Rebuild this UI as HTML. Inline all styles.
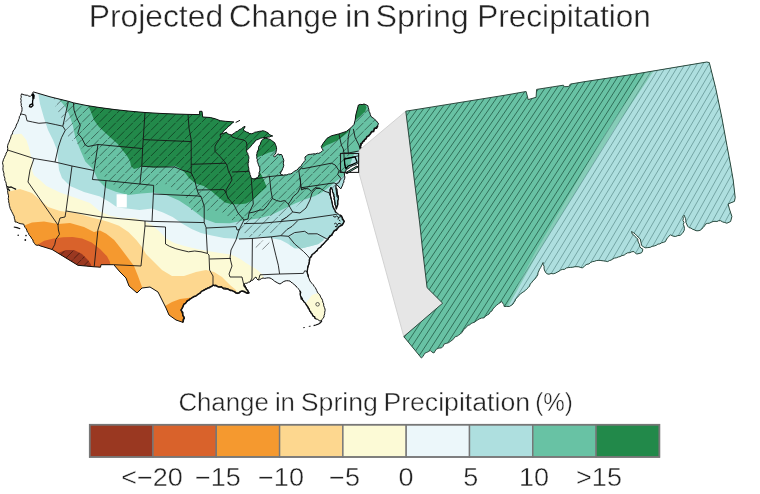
<!DOCTYPE html>
<html lang="en"><head><meta charset="utf-8"><title>Projected Change in Spring Precipitation</title>
<style>
html,body{margin:0;padding:0;background:#fff}
body{width:760px;height:494px;overflow:hidden;font-family:"Liberation Sans",sans-serif}
svg{display:block}
text{font-family:"Liberation Sans",sans-serif;fill:#222}
</style></head><body>
<svg width="760" height="494" viewBox="0 0 760 494">
<rect width="760" height="494" fill="#fff"/>
<defs>
<clipPath id="us"><path d="M21.6 93.8 L26.0 95.2 L30.5 96.3 L31.8 95.0 L33.3 91.9 L50.0 96.8 L68.4 101.3 L73.4 102.8 L86.0 105.4 L100.0 107.6 L115.0 109.6 L130.0 111.2 L145.0 112.5 L160.0 113.4 L175.0 114.0 L188.0 114.4 L199.6 114.6 L199.6 111.3 L202.0 111.3 L202.7 117.0 L210.3 117.5 L215.3 118.8 L220.3 120.7 L225.3 121.3 L233.8 121.9 L227.5 127.5 L221.3 133.8 L220.0 134.5 L226.3 132.0 L227.5 133.8 L231.3 135.0 L237.6 131.3 L241.4 128.8 L245.0 126.3 L245.0 127.0 L243.2 130.0 L246.4 132.0 L251.4 133.8 L256.4 132.0 L262.7 130.7 L267.7 132.6 L270.2 135.0 L272.7 136.0 L268.0 137.0 L264.0 137.5 L260.5 138.2 L256.4 140.0 L249.6 147.5 L246.4 150.8 L248.7 156.4 L248.1 165.2 L249.2 171.5 L250.8 177.4 L254.0 179.0 L257.6 177.4 L259.1 174.6 L259.8 169.0 L257.8 162.7 L256.6 155.2 L258.5 147.6 L260.6 143.0 L261.8 140.4 L263.0 139.2 L265.2 138.2 L270.2 139.5 L274.6 142.6 L276.5 147.6 L275.9 152.7 L273.4 155.8 L274.6 157.0 L277.8 153.9 L281.5 154.5 L283.4 159.0 L283.8 165.2 L282.1 170.2 L280.3 174.0 L283.4 175.2 L290.3 174.0 L296.6 170.2 L301.6 165.2 L305.4 160.2 L305.0 157.0 L307.5 155.0 L312.5 154.0 L318.8 153.4 L323.2 150.2 L321.3 146.5 L323.2 143.3 L327.0 138.3 L331.4 135.8 L338.9 133.9 L346.4 131.4 L350.8 127.9 L354.0 124.5 L355.2 120.0 L355.8 115.0 L357.1 110.0 L358.4 105.0 L364.0 104.0 L367.8 105.7 L369.0 111.3 L370.9 116.3 L374.7 119.5 L378.4 123.2 L377.8 125.7 L374.0 130.0 L370.3 134.0 L366.5 137.7 L362.8 141.4 L360.9 145.2 L360.2 149.6 L361.0 153.0 L361.0 158.0 L359.5 162.0 L357.5 163.5 L352.0 166.0 L348.0 168.5 L345.5 171.0 L344.6 173.2 L344.6 178.9 L342.7 185.1 L340.8 188.9 L339.0 187.0 L337.2 185.0 L336.4 184.5 L336.2 187.7 L337.0 191.4 L338.3 197.7 L337.7 205.2 L336.4 209.0 L335.0 203.0 L333.8 196.0 L332.5 190.0 L331.0 187.5 L330.0 190.0 L330.5 196.0 L331.5 200.0 L332.5 205.0 L334.0 209.0 L336.0 212.5 L339.8 215.0 L342.3 217.5 L344.2 221.3 L342.3 225.0 L340.0 226.0 L337.3 228.8 L334.5 230.5 L332.3 233.8 L327.9 239.5 L323.5 243.9 L319.7 247.6 L316.0 251.4 L312.2 254.5 L309.7 258.3 L308.4 265.2 L307.2 271.5 L308.4 277.0 L310.0 281.0 L316.0 289.0 L322.0 299.0 L325.0 309.0 L324.0 317.0 L321.0 321.0 L316.0 319.0 L311.0 313.0 L308.0 307.0 L304.0 302.0 L301.0 297.0 L300.0 291.0 L296.0 286.0 L290.0 281.0 L285.0 281.0 L280.0 284.0 L276.0 282.0 L270.0 278.0 L263.0 278.0 L258.0 280.0 L256.0 277.0 L253.0 280.0 L250.0 282.0 L244.0 284.0 L246.0 288.0 L249.0 293.0 L245.0 292.0 L242.0 291.0 L239.0 293.0 L236.0 293.0 L232.0 290.5 L228.0 289.0 L220.0 287.0 L213.0 285.0 L208.0 288.0 L202.0 291.0 L196.0 296.0 L190.0 299.0 L184.0 304.0 L181.0 310.0 L184.0 317.0 L183.0 322.4 L176.0 320.0 L169.0 315.0 L166.0 308.0 L162.0 300.0 L158.0 292.0 L150.0 287.0 L142.0 288.0 L137.0 293.0 L129.0 286.0 L126.0 278.0 L120.0 272.0 L114.0 265.0 L113.7 264.7 L101.0 264.7 L100.5 267.2 L94.2 266.8 L77.9 265.3 L52.1 249.5 L40.0 245.8 L35.5 244.8 L31.6 238.5 L26.9 230.6 L23.7 224.2 L15.0 221.9 L14.2 216.3 L11.0 210.0 L8.7 202.0 L8.0 194.0 L6.8 186.6 L3.8 175.2 L2.5 162.7 L5.0 156.0 L7.5 150.1 L7.5 147.0 L8.2 143.8 L12.6 132.5 L16.3 125.0 L17.6 122.6 L20.7 113.9 L22.0 109.5 L21.3 103.8 L20.7 98.8 Z M345.5 172.8 L351.0 169.5 L357.0 166.0 L358.0 167.0 L352.0 170.5 L347.0 173.6 Z"/></clipPath>
<clipPath id="hz"><path d="M52.0 85.0 L54.0 100.0 L56.0 108.0 L61.0 116.0 L64.0 130.0 L69.0 138.0 L80.0 146.0 L88.0 160.0 L96.0 168.0 L104.0 176.0 L115.0 186.0 L128.0 194.0 L140.0 192.0 L150.0 186.0 L165.0 184.0 L180.0 192.0 L188.0 200.0 L192.0 212.0 L200.0 212.0 L210.0 210.0 L222.0 212.0 L234.0 222.0 L240.0 232.0 L250.0 237.0 L262.0 236.0 L275.0 232.0 L283.0 222.0 L290.0 212.0 L298.0 205.0 L310.0 196.0 L325.0 192.0 L336.0 190.0 L342.0 186.0 L346.0 176.0 L350.0 150.0 L395.0 105.0 L380.0 96.5 L326.0 150.5 L318.0 152.0 L305.0 150.0 L290.0 140.0 L290.0 80.0 L52.0 80.0 Z M255.0 241.0 L270.0 240.0 L270.0 249.0 L256.0 250.0 Z M56.0 256.0 L58.0 253.0 L66.0 250.0 L74.0 250.0 L82.0 254.0 L88.0 260.0 L91.0 264.4 L92.0 270.0 L92.0 345.0 L-10.0 345.0 L-10.0 256.0 Z"/></clipPath>
<clipPath id="ins"><path d="M405.8 111.2 L505.0 95.2 L526.1 91.5 L528.2 99.6 L536.1 97.3 L536.6 89.4 L563.4 85.2 L564.5 86.7 L568.7 86.5 L570.3 84.1 L585.0 81.6 L637.8 73.6 L706.8 62.0 L709.3 62.6 L715.6 87.7 L721.9 117.8 L726.9 145.4 L730.6 165.0 L733.2 180.0 L735.2 197.6 L734.4 201.4 L728.1 203.9 L729.4 208.9 L731.9 216.5 L730.6 221.5 L726.9 223.2 L724.7 222.5 L722.6 221.9 L720.6 220.7 L718.7 220.7 L716.9 221.5 L715.0 221.3 L713.1 221.5 L711.2 222.3 L709.4 223.2 L707.4 223.4 L705.5 224.0 L704.6 225.9 L703.1 227.4 L701.8 229.0 L700.1 230.3 L698.0 230.8 L696.0 230.7 L694.2 229.8 L692.5 229.2 L691.0 228.1 L689.2 227.7 L687.6 226.1 L686.7 224.0 L685.9 222.3 L685.8 220.4 L685.6 218.6 L684.8 216.9 L684.2 215.2 L683.0 216.5 L683.3 218.5 L682.9 220.5 L684.0 222.4 L683.3 224.4 L684.1 226.3 L684.4 228.3 L684.2 230.3 L683.2 232.2 L681.8 233.7 L680.4 235.3 L677.8 235.6 L675.4 236.5 L672.8 236.0 L670.4 234.8 L669.1 236.1 L667.8 237.5 L666.6 239.0 L665.4 241.6 L663.6 242.3 L661.6 242.8 L659.9 243.9 L657.9 244.1 L656.2 245.3 L654.2 246.0 L652.1 246.3 L650.3 247.3 L647.8 247.6 L645.3 247.8 L643.3 246.7 L641.5 245.3 L641.2 243.2 L640.7 241.1 L640.3 239.0 L638.3 237.3 L636.5 235.3 L635.0 233.8 L633.3 232.6 L631.5 231.5 L632.2 234.0 L633.8 235.1 L635.0 236.6 L636.4 237.8 L637.8 239.0 L637.9 241.0 L638.6 242.9 L639.5 244.6 L639.8 246.6 L641.0 248.2 L642.8 249.1 L642.5 251.1 L641.5 252.8 L639.0 253.5 L636.5 254.1 L634.0 251.6 L631.9 251.7 L629.9 252.7 L627.7 252.8 L625.8 253.8 L624.2 255.1 L622.0 255.5 L620.2 256.6 L618.2 257.0 L616.4 257.8 L614.5 258.1 L612.7 259.1 L611.1 260.1 L609.3 260.6 L607.7 261.6 L605.8 261.2 L603.9 260.9 L602.0 260.7 L600.1 260.4 L598.2 260.4 L596.3 260.6 L594.5 261.3 L592.6 261.6 L590.7 262.4 L589.0 263.9 L586.9 264.3 L585.1 265.4 L582.6 267.9 L580.7 267.5 L578.9 266.8 L577.0 266.7 L575.0 266.7 L572.8 267.2 L570.5 267.4 L568.2 267.6 L566.3 268.0 L564.6 269.3 L562.6 269.4 L560.7 270.0 L559.0 271.2 L557.1 272.2 L555.3 273.2 L553.2 273.8 L551.1 273.5 L549.0 274.2 L546.9 273.8 L545.4 272.0 L544.4 270.0 L544.0 268.1 L544.1 266.2 L543.0 264.4 L543.1 262.5 L542.3 264.2 L541.4 265.9 L540.6 267.6 L539.5 269.2 L538.8 271.0 L538.0 272.7 L537.8 274.7 L536.8 276.4 L535.6 278.0 L534.4 279.6 L532.8 280.8 L531.8 282.6 L530.2 283.9 L529.6 286.0 L528.3 287.5 L526.8 288.9 L525.4 290.4 L523.8 291.6 L522.1 292.7 L520.5 293.9 L518.8 295.5 L517.3 297.5 L515.5 299.0 L515.1 300.9 L513.9 302.4 L513.0 304.0 L511.2 305.4 L509.2 306.5 L506.7 306.4 L504.2 306.5 L503.8 304.6 L502.7 303.1 L501.7 301.5 L500.0 302.7 L498.3 303.9 L496.7 305.2 L494.7 307.0 L492.9 309.0 L492.0 310.9 L490.0 312.1 L489.1 314.0 L487.3 315.0 L485.5 316.2 L484.1 317.8 L481.5 318.1 L479.1 319.0 L477.6 320.0 L476.0 321.0 L474.6 322.2 L472.8 322.8 L471.1 323.5 L469.7 324.9 L467.8 325.3 L466.2 327.5 L464.0 329.1 L463.0 330.9 L461.8 332.6 L460.3 334.1 L458.7 335.1 L457.2 336.2 L455.3 336.6 L453.9 338.6 L452.1 340.2 L450.2 341.6 L448.3 342.8 L446.1 343.4 L444.0 344.1 L443.1 346.3 L441.5 347.9 L438.9 348.1 L436.4 349.1 L435.1 351.0 L433.9 353.0 L431.8 352.0 L430.2 350.4 L428.6 351.5 L426.9 352.3 L425.1 353.0 L424.0 354.7 L422.9 356.6 L421.4 358.0 L403.8 336.6 L442.7 303.2 L427.1 287.7 L422.6 250.0 L419.8 224.0 Z"/></clipPath>
</defs>
<g clip-path="url(#us)">
<rect x="0" y="80" width="400" height="260" fill="#ECF7FA"/>
<path d="M38.0 88.0 L38.0 92.0 L40.0 104.0 L44.0 118.0 L48.0 130.0 L53.0 140.0 L57.0 150.0 L58.0 160.0 L59.0 170.0 L62.0 178.0 L70.0 186.0 L84.0 192.0 L100.0 196.5 L109.5 202.0 L117.4 207.6 L126.8 208.4 L139.5 210.0 L152.0 208.6 L163.0 212.4 L172.6 217.0 L182.0 223.4 L191.6 229.0 L201.0 233.0 L210.5 235.3 L224.0 238.0 L240.0 239.0 L252.0 238.0 L262.0 237.6 L272.0 238.2 L280.8 240.0 L287.0 243.2 L294.6 248.3 L302.2 248.3 L312.2 245.7 L318.5 243.9 L322.2 240.7 L324.7 238.8 L332.0 235.0 L430.0 235.0 L430.0 60.0 L38.0 60.0 Z" fill="#AEDFDF"/>
<path d="M57.0 92.0 L57.7 98.0 L62.8 103.8 L66.0 108.0 L69.0 114.0 L71.0 120.0 L73.0 126.0 L75.3 137.5 L80.3 150.1 L85.3 161.4 L92.9 169.0 L98.0 180.0 L106.0 188.0 L115.8 191.8 L128.4 195.0 L141.0 193.4 L153.7 192.6 L166.3 195.0 L179.0 200.5 L188.4 206.8 L198.0 214.0 L204.5 219.0 L215.5 222.9 L229.8 223.2 L242.4 220.8 L258.2 218.5 L270.8 215.3 L283.5 209.0 L296.1 203.0 L305.6 199.2 L315.0 196.0 L322.6 192.0 L327.6 188.2 L332.7 184.0 L337.7 180.0 L342.7 176.4 L346.0 173.0 L430.0 173.0 L430.0 60.0 L57.0 60.0 Z" fill="#68C2A4"/>
<path d="M289.0 237.0 L296.0 233.5 L305.0 232.5 L312.0 234.0 L320.0 237.0 L324.0 240.0 L318.5 243.9 L312.2 245.7 L302.2 248.3 L294.6 248.3 L290.0 245.0 Z" fill="#9FD7D3"/>
<path d="M88.0 100.0 L88.0 105.0 L91.0 112.0 L94.0 120.0 L99.0 127.0 L105.3 132.7 L111.0 138.0 L117.8 144.0 L122.0 149.5 L126.6 155.3 L130.0 161.0 L131.0 166.0 L134.0 169.0 L138.0 168.0 L141.8 166.3 L153.7 167.6 L166.8 167.0 L174.7 165.7 L180.0 168.3 L185.3 172.9 L189.2 178.2 L195.8 183.4 L203.7 186.0 L211.6 191.3 L219.5 197.9 L225.0 202.5 L232.0 204.3 L240.0 204.3 L246.1 203.5 L252.2 200.5 L259.3 193.4 L266.4 187.3 L266.4 185.3 L263.3 178.2 L259.8 172.1 L258.0 168.0 L256.0 165.0 L256.0 158.0 L258.0 157.0 L262.7 155.2 L269.0 152.6 L273.4 151.4 L276.5 149.0 L290.0 140.0 L290.0 90.0 L86.0 90.0 Z" fill="#22894A"/>
<path d="M321.3 146.5 L323.2 143.3 L327.0 138.3 L331.4 135.8 L338.9 133.9 L346.4 131.4 L349.6 129.5 L347.7 132.6 L342.7 136.4 L337.6 140.2 L331.4 143.3 L326.4 145.2 L322.6 147.7 Z" fill="#22894A"/>
<path d="M349.1 167.2 L352.8 157.3 L354.5 153.0 L363.0 149.0 L363.0 166.0 Z" fill="#AEDFDF"/>
<path d="M260.5 172.6 L269.4 175.2 L269.6 183.3 L266.4 186.3 L263.3 178.2 Z" fill="#7FCDB2"/>
<path d="M358.4 103.0 L364.0 102.0 L366.5 107.5 L365.3 111.3 L360.2 116.3 L355.8 120.0 L353.0 118.0 L355.0 110.0 Z" fill="#22894A"/>
<path d="M5.0 134.4 L13.8 134.4 L21.3 133.8 L26.4 140.0 L28.9 147.6 L30.7 155.0 L32.9 162.6 L32.0 170.2 L33.9 175.2 L40.2 180.2 L46.4 186.0 L60.0 192.5 L76.0 198.0 L90.0 203.0 L100.0 211.6 L109.5 215.5 L122.0 218.0 L134.7 218.0 L145.0 221.4 L152.0 225.0 L160.0 232.0 L166.3 238.4 L174.2 243.0 L185.3 246.3 L198.0 249.3 L209.0 251.3 L220.0 252.9 L231.3 254.5 L240.8 259.2 L246.0 263.0 L256.0 269.0 L262.0 274.0 L265.0 280.0 L265.0 345.0 L-10.0 345.0 L-10.0 134.4 Z" fill="#FCFAD6"/>
<path d="M303.0 306.0 L306.0 303.0 L312.0 295.0 L318.0 293.0 L324.0 298.0 L330.0 300.0 L330.0 325.0 L300.0 325.0 Z" fill="#FCFAD6"/>
<path d="M5.0 192.0 L11.0 191.0 L20.0 189.0 L32.0 193.0 L40.0 200.0 L48.0 207.0 L60.0 211.0 L76.0 213.0 L90.0 217.0 L100.0 219.5 L108.0 221.8 L119.0 225.8 L128.4 232.0 L136.3 240.0 L142.6 248.0 L146.0 254.0 L154.0 262.0 L162.0 270.0 L172.0 276.0 L184.0 276.0 L196.0 272.0 L206.0 270.0 L214.0 272.0 L222.0 277.0 L230.0 285.0 L236.0 290.0 L238.0 296.0 L238.0 345.0 L-10.0 345.0 L-10.0 192.0 Z" fill="#FDD78F"/>
<path d="M20.0 228.0 L23.0 226.0 L32.0 222.4 L44.0 221.6 L58.0 224.0 L70.0 223.0 L84.0 227.0 L94.0 232.0 L100.0 230.5 L106.3 233.7 L114.2 240.0 L120.5 248.0 L128.0 258.0 L134.0 266.0 L138.0 276.0 L142.0 287.0 L142.0 295.0 L142.0 345.0 L-10.0 345.0 L-10.0 228.0 Z" fill="#F5992F"/>
<path d="M163.0 308.0 L165.0 306.0 L172.0 302.0 L180.0 299.0 L188.0 298.0 L193.0 297.0 L195.0 330.0 L160.0 330.0 Z" fill="#F5992F"/>
<path d="M36.0 248.0 L38.7 244.0 L44.2 240.8 L53.7 238.5 L63.2 237.2 L72.7 236.9 L82.1 238.5 L91.6 242.4 L100.0 249.0 L107.0 256.3 L110.0 262.0 L111.0 270.0 L111.0 345.0 L-10.0 345.0 L-10.0 248.0 Z" fill="#D9622B"/>
<path d="M56.0 256.0 L58.0 253.0 L66.0 250.0 L74.0 250.0 L82.0 254.0 L88.0 260.0 L91.0 264.4 L92.0 270.0 L92.0 345.0 L-10.0 345.0 L-10.0 256.0 Z" fill="#9A3821"/>
<path d="M116.6 194.2 L126.8 194.2 L126.8 207.6 L116.6 207.6 Z" fill="#fff"/>
<g clip-path="url(#hz)" stroke="#000" stroke-opacity="0.52" stroke-width="0.85" stroke-dasharray="10.8 1.3" fill="none">
<path d="M-54.9 80 L-314.9 340 M-46.4 80 L-306.4 340 M-37.8 80 L-297.8 340 M-29.3 80 L-289.3 340 M-20.7 80 L-280.7 340 M-12.2 80 L-272.2 340 M-3.7 80 L-263.7 340 M4.9 80 L-255.1 340 M13.4 80 L-246.6 340 M22.0 80 L-238.0 340 M30.5 80 L-229.5 340 M39.0 80 L-221.0 340 M47.6 80 L-212.4 340 M56.1 80 L-203.9 340 M64.7 80 L-195.3 340 M73.2 80 L-186.8 340 M81.7 80 L-178.3 340 M90.3 80 L-169.7 340 M98.8 80 L-161.2 340 M107.4 80 L-152.6 340 M115.9 80 L-144.1 340 M124.4 80 L-135.6 340 M133.0 80 L-127.0 340 M141.5 80 L-118.5 340 M150.1 80 L-109.9 340 M158.6 80 L-101.4 340 M167.1 80 L-92.9 340 M175.7 80 L-84.3 340 M184.2 80 L-75.8 340 M192.8 80 L-67.2 340 M201.3 80 L-58.7 340 M209.8 80 L-50.2 340 M218.4 80 L-41.6 340 M226.9 80 L-33.1 340 M235.5 80 L-24.5 340 M244.0 80 L-16.0 340 M252.5 80 L-7.5 340 M261.1 80 L1.1 340 M269.6 80 L9.6 340 M278.2 80 L18.2 340 M286.7 80 L26.7 340 M295.2 80 L35.2 340 M303.8 80 L43.8 340 M312.3 80 L52.3 340 M320.9 80 L60.9 340 M329.4 80 L69.4 340 M337.9 80 L77.9 340 M346.5 80 L86.5 340 M355.0 80 L95.0 340 M363.6 80 L103.6 340 M372.1 80 L112.1 340 M380.6 80 L120.6 340 M389.2 80 L129.2 340 M397.7 80 L137.7 340 M406.3 80 L146.3 340 M414.8 80 L154.8 340 M423.3 80 L163.3 340 M431.9 80 L171.9 340 M440.4 80 L180.4 340 M449.0 80 L189.0 340 M457.5 80 L197.5 340 M466.0 80 L206.0 340 M474.6 80 L214.6 340 M483.1 80 L223.1 340 M491.7 80 L231.7 340 M500.2 80 L240.2 340 M508.7 80 L248.7 340 M517.3 80 L257.3 340 M525.8 80 L265.8 340 M534.4 80 L274.4 340 M542.9 80 L282.9 340 M551.4 80 L291.4 340 M560.0 80 L300.0 340 M568.5 80 L308.5 340 M577.1 80 L317.1 340 M585.6 80 L325.6 340 M594.1 80 L334.1 340 M602.7 80 L342.7 340 M611.2 80 L351.2 340 M619.8 80 L359.8 340 M628.3 80 L368.3 340 M636.8 80 L376.8 340 M645.4 80 L385.4 340 M653.9 80 L393.9 340 M662.5 80 L402.5 340 M671.0 80 L411.0 340 M679.5 80 L419.5 340 M688.1 80 L428.1 340 M696.6 80 L436.6 340 M705.2 80 L445.2 340 M713.7 80 L453.7 340"/>
</g>
<path d="M20.7 113.9 L25.7 115.0 L27.0 120.8 L32.6 122.0 L38.9 123.3 L46.4 122.7 L55.2 124.5 L62.8 126.2 M68.4 101.3 L62.8 126.2 M62.8 126.2 L65.3 130.2 L61.5 137.7 L58.4 147.0 L55.0 162.0 M7.6 150.0 L34.0 158.5 L55.0 162.0 L72.0 166.0 L94.0 170.5 M73.4 102.8 L74.0 110.0 L76.6 117.6 L80.3 125.2 L77.8 133.3 L81.6 137.7 L85.3 145.0 L88.0 146.5 L98.0 144.5 M98.0 144.5 L94.0 170.5 L92.4 179.5 M98.0 144.5 L143.0 148.6 M145.0 112.5 L143.2 140.0 L142.6 149.0 L141.8 166.3 L139.9 184.0 M92.4 179.5 L106.0 180.6 L139.9 184.0 L153.7 185.4 M106.0 180.6 L101.8 217.0 M72.0 166.0 L66.0 211.0 M34.0 158.5 L30.0 170.0 L28.0 182.0 L58.0 225.0 M66.0 211.0 L65.0 217.0 L60.0 218.0 L58.0 225.0 L58.4 230.0 L59.5 234.2 L55.8 239.5 L54.7 244.7 L52.1 249.5 M66.0 211.0 L101.8 217.0 L145.0 221.0 L152.0 221.4 L204.2 222.6 M101.8 217.0 L97.9 230.0 L94.2 266.8 M153.7 185.4 L153.4 194.0 L152.0 221.4 M153.4 194.0 L197.1 195.9 L201.0 196.6 M145.0 221.0 L145.0 226.0 L141.8 258.0 L141.0 266.0 L113.7 264.7 M145.0 226.0 L165.5 227.0 L165.5 244.0 L169.5 246.3 L175.8 248.7 L182.0 250.3 L188.4 251.8 L194.7 251.0 L201.0 251.8 L207.4 253.4 L209.0 255.0 L209.6 270.0 L213.0 276.0 L213.0 285.0 M204.2 206.0 L204.2 222.6 L206.0 227.4 L207.4 253.4 M209.6 259.0 L231.0 258.4 M143.2 139.6 L191.2 141.6 M141.8 166.3 L153.7 167.0 L174.7 167.0 L182.6 170.3 L187.9 171.6 L191.2 172.9 M188.0 114.4 L189.0 128.0 L191.2 140.0 L191.2 164.3 L191.2 172.9 L194.5 179.5 L197.1 190.0 L198.5 194.0 L201.0 196.6 L204.2 206.0 M191.2 164.3 L226.0 163.2 M197.1 190.0 L224.0 189.6 L226.0 193.0 M220.0 134.5 L220.6 137.6 L216.3 143.9 L215.0 146.4 L215.0 151.4 L220.0 156.4 L224.4 161.4 L227.0 165.2 L228.2 170.2 L231.3 177.0 L232.0 180.0 L229.0 185.0 L226.0 190.0 L226.0 193.0 L228.0 198.0 L234.0 205.0 L238.0 213.0 L244.0 220.0 L241.0 226.0 L239.0 230.0 L236.0 240.0 L231.0 250.0 L230.0 258.0 L232.0 266.0 L229.0 274.0 L230.0 277.0 L242.0 277.0 L243.6 284.0 M231.3 135.0 L232.0 137.0 L237.6 138.8 L243.9 140.0 L246.4 142.0 L247.0 146.4 L246.4 150.8 M232.0 172.0 L249.5 171.3 M251.2 177.7 L252.2 190.4 L253.3 204.0 L249.0 213.0 L248.0 219.0 L244.0 220.0 M254.0 179.0 L270.0 176.5 L283.4 175.2 M269.4 175.8 L270.9 190.4 L272.4 198.5 M249.0 213.0 L254.0 212.0 L260.0 210.0 L263.3 210.0 L267.4 205.5 L269.4 202.5 L272.4 198.5 L276.5 200.5 L280.5 201.5 L284.6 200.5 L288.3 204.0 L290.2 201.5 L293.3 196.4 L297.7 192.7 L300.2 187.7 L300.6 181.4 L300.0 178.0 M244.0 223.6 L262.0 223.2 L297.1 220.0 L332.3 215.0 L339.8 213.6 M297.8 220.6 L292.1 226.3 L287.1 229.4 L280.8 235.7 M239.0 239.0 L252.0 238.5 L262.0 237.6 L271.4 236.8 L280.8 235.7 L288.4 236.3 M206.0 228.0 L236.0 226.6 L237.0 230.0 L239.6 229.6 M252.4 238.5 L252.0 278.0 L250.0 282.0 M271.4 236.8 L275.8 255.2 L278.3 265.2 L279.6 274.0 M258.5 280.0 L260.0 274.8 L279.6 274.0 L303.4 273.4 L304.7 270.8 L307.2 271.5 M288.4 236.3 L294.6 243.9 L303.4 251.4 L307.2 255.2 L309.7 258.3 M288.4 236.3 L294.6 232.6 L304.7 231.3 L308.4 233.8 L317.2 233.8 L327.9 239.5 M288.3 204.0 L290.2 207.7 L292.7 212.0 L287.0 217.0 L281.0 220.5 M292.7 212.0 L300.0 213.0 L306.0 208.0 L310.0 200.0 L312.0 193.0 L316.0 188.5 L320.0 188.3 M298.8 170.7 L301.3 187.7 M298.8 170.7 L302.0 167.6 L302.5 168.8 L331.4 163.2 L335.2 165.0 L339.0 170.7 L337.7 174.5 L340.8 178.2 L339.0 182.6 L336.4 183.9 M301.3 187.7 L334.0 182.9 L336.4 183.9 M339.0 170.7 L344.6 173.2 M301.3 187.7 L308.8 189.0 L311.3 191.4 L315.0 187.7 L320.0 188.3 L325.0 191.4 L329.0 192.7 L331.5 199.0 M301.3 187.7 L301.5 190.0 L305.0 188.5 M336.4 183.9 L335.8 187.7 L337.0 197.0 L338.3 197.5 M338.9 133.9 L341.4 145.2 L343.3 149.0 L343.9 153.0 L344.2 159.0 L344.8 165.3 L346.1 168.1 M350.2 128.3 L348.3 136.4 L347.7 145.2 L348.3 153.0 M353.3 128.9 L355.2 137.7 L359.0 145.2 L360.2 149.6 M343.9 153.0 L348.3 153.0 L359.0 151.0 M344.2 159.0 L354.6 156.7 L360.0 155.5" fill="none" stroke="#161616" stroke-width="0.9" stroke-linejoin="round"/>
</g>
<path d="M21.6 93.8 L23.0 94.5 L24.5 94.9 L26.0 95.2 L27.6 95.3 L28.9 96.2 L30.5 96.3 L31.8 95.0 L32.4 93.4 L33.3 91.9 L50.0 96.8 L68.4 101.3 L73.4 102.8 L86.0 105.4 L100.0 107.6 L115.0 109.6 L130.0 111.2 L145.0 112.5 L160.0 113.4 L175.0 114.0 L188.0 114.4 L199.6 114.6 L199.6 111.3 L202.0 111.3 L202.7 117.0 L210.3 117.5 L215.3 118.8 L220.3 120.7 L225.3 121.3 L233.8 121.9 L232.4 122.9 L231.1 123.9 L230.2 125.4 L228.5 126.1 L227.5 127.5 L226.3 128.8 L224.8 129.8 L223.6 131.1 L222.7 132.7 L221.3 133.8 L220.0 134.5 L221.6 134.0 L223.2 133.4 L224.9 133.0 L226.3 132.0 L227.5 133.8 L229.4 134.4 L231.3 135.0 L232.9 134.1 L234.4 133.0 L235.8 131.9 L237.6 131.3 L238.7 130.1 L240.0 129.4 L241.4 128.8 L243.0 127.3 L245.0 126.3 L245.0 127.0 L244.1 128.5 L243.2 130.0 L244.8 131.0 L246.4 132.0 L248.1 132.5 L249.6 133.6 L251.4 133.8 L253.1 133.3 L254.6 132.3 L256.4 132.0 L258.0 131.8 L259.5 131.3 L261.2 131.2 L262.7 130.7 L264.4 131.1 L266.1 131.9 L267.7 132.6 L269.0 133.8 L270.2 135.0 L272.7 136.0 L271.1 136.2 L269.6 137.0 L268.0 137.0 L266.0 137.6 L264.0 137.5 L262.3 137.9 L260.5 138.2 L258.5 139.3 L256.4 140.0 L255.0 141.0 L254.2 142.6 L252.9 143.7 L251.7 144.8 L250.9 146.4 L249.6 147.5 L248.6 148.7 L247.5 149.7 L246.4 150.8 L246.9 152.2 L247.8 153.5 L248.0 155.1 L248.7 156.4 L248.9 158.2 L248.5 159.9 L248.7 161.7 L248.0 163.4 L248.1 165.2 L248.4 166.8 L248.8 168.3 L248.8 169.9 L249.2 171.5 L249.8 172.9 L250.0 174.5 L250.7 175.9 L250.8 177.4 L252.2 178.5 L254.0 179.0 L255.8 178.3 L257.6 177.4 L258.6 176.2 L259.1 174.6 L259.0 172.7 L259.9 170.9 L259.8 169.0 L259.7 167.3 L258.8 165.8 L258.3 164.3 L257.8 162.7 L257.2 161.3 L257.4 159.7 L256.7 158.3 L256.9 156.7 L256.6 155.2 L257.0 153.7 L257.1 152.1 L257.9 150.7 L258.5 149.2 L258.5 147.6 L259.0 146.0 L260.2 144.7 L260.6 143.0 L261.8 140.4 L263.0 139.2 L265.2 138.2 L266.9 138.6 L268.6 138.9 L270.2 139.5 L271.7 140.5 L273.1 141.7 L274.6 142.6 L275.3 144.2 L276.0 145.9 L276.5 147.6 L276.6 149.3 L276.2 151.0 L275.9 152.7 L274.9 154.5 L273.4 155.8 L274.6 157.0 L276.3 155.6 L277.8 153.9 L279.6 154.5 L281.5 154.5 L282.3 155.9 L282.7 157.5 L283.4 159.0 L283.8 160.5 L283.5 162.1 L283.3 163.7 L283.8 165.2 L283.4 166.9 L282.7 168.5 L282.1 170.2 L280.9 172.0 L280.3 174.0 L281.9 174.6 L283.4 175.2 L285.1 174.8 L286.9 175.0 L288.5 174.1 L290.3 174.0 L292.0 173.3 L293.4 172.0 L294.9 171.0 L296.6 170.2 L298.0 169.1 L298.9 167.5 L300.6 166.7 L301.6 165.2 L302.3 163.8 L303.4 162.6 L304.2 161.3 L305.4 160.2 L305.0 158.6 L305.0 157.0 L306.3 156.0 L307.5 155.0 L309.1 154.4 L310.8 154.3 L312.5 154.0 L314.1 153.8 L315.7 154.0 L317.2 153.2 L318.8 153.4 L320.4 152.5 L321.9 151.5 L323.2 150.2 L322.0 148.5 L321.3 146.5 L323.2 143.3 L327.0 138.3 L331.4 135.8 L338.9 133.9 L346.4 131.4 L350.8 127.9 L354.0 124.5 L355.2 120.0 L355.8 115.0 L357.1 110.0 L358.4 105.0 L360.2 104.4 L362.2 104.6 L364.0 104.0 L365.9 104.7 L367.8 105.7 L368.3 107.6 L368.8 109.4 L369.0 111.3 L369.9 112.9 L370.3 114.6 L370.9 116.3 L372.1 117.4 L373.6 118.2 L374.7 119.5 L376.1 120.5 L377.1 122.0 L378.4 123.2 L377.8 125.7 L376.3 126.9 L375.0 128.4 L374.0 130.0 L372.5 131.1 L371.6 132.7 L370.3 134.0 L368.9 135.1 L367.5 136.2 L366.5 137.7 L365.4 139.1 L364.0 140.1 L362.8 141.4 L362.1 143.4 L360.9 145.2 L360.7 147.4 L360.2 149.6 L360.3 151.4 L361.0 153.0 L360.7 154.7 L361.2 156.3 L361.0 158.0 L360.3 160.0 L359.5 162.0 L357.5 163.5 L356.2 164.3 L354.9 165.0 L353.3 165.3 L352.0 166.0 L350.5 166.6 L349.5 167.9 L348.0 168.5 L346.6 169.6 L345.5 171.0 L344.6 173.2 L344.4 175.1 L344.9 177.0 L344.6 178.9 L343.8 180.4 L343.9 182.1 L343.0 183.5 L342.7 185.1 L341.7 187.0 L340.8 188.9 L339.0 187.0 L337.2 185.0 L336.4 184.5 L335.9 186.1 L336.2 187.7 L336.3 189.6 L337.0 191.4 L337.3 193.0 L337.6 194.6 L338.0 196.1 L338.3 197.7 L338.5 199.2 L338.0 200.7 L337.9 202.2 L338.1 203.7 L337.7 205.2 L336.7 207.0 L336.4 209.0 L336.1 207.5 L335.9 205.9 L335.2 204.5 L335.0 203.0 L334.7 201.2 L334.2 199.5 L334.3 197.7 L333.8 196.0 L333.3 194.5 L333.4 193.0 L332.5 191.6 L332.5 190.0 L331.0 187.5 L330.0 190.0 L330.1 191.5 L330.5 193.0 L330.0 194.5 L330.5 196.0 L330.9 198.0 L331.5 200.0 L331.8 201.7 L332.1 203.3 L332.5 205.0 L333.6 206.9 L334.0 209.0 L335.2 210.6 L336.0 212.5 L337.5 213.0 L338.4 214.3 L339.8 215.0 L340.9 216.4 L342.3 217.5 L343.2 219.4 L344.2 221.3 L343.2 223.1 L342.3 225.0 L340.0 226.0 L338.7 227.4 L337.3 228.8 L335.7 229.4 L334.5 230.5 L333.6 232.3 L332.3 233.8 L331.1 235.2 L330.3 236.8 L328.7 237.9 L327.9 239.5 L326.9 240.7 L325.6 241.6 L324.3 242.5 L323.5 243.9 L322.5 245.4 L321.1 246.5 L319.7 247.6 L318.3 248.7 L317.0 249.9 L316.0 251.4 L314.6 252.3 L313.3 253.3 L312.2 254.5 L311.0 255.6 L310.6 257.1 L309.7 258.3 L309.0 260.0 L309.4 261.8 L308.9 263.5 L308.4 265.2 L308.3 266.8 L307.5 268.3 L307.6 269.9 L307.2 271.5 L307.5 273.3 L308.0 275.2 L308.4 277.0 L309.2 279.0 L310.0 281.0 L310.9 282.4 L312.2 283.5 L313.3 284.8 L314.1 286.3 L315.2 287.5 L316.0 289.0 L316.7 290.5 L317.4 292.1 L318.3 293.5 L319.7 294.6 L320.3 296.1 L321.0 297.7 L322.0 299.0 L322.6 300.6 L322.9 302.4 L323.7 303.9 L323.7 305.7 L324.4 307.4 L325.0 309.0 L325.1 310.6 L324.7 312.2 L324.7 313.8 L324.1 315.4 L324.0 317.0 L323.0 318.3 L322.0 319.6 L321.0 321.0 L319.2 320.7 L317.8 319.4 L316.0 319.0 L315.0 317.8 L314.0 316.6 L313.1 315.4 L312.0 314.2 L311.0 313.0 L310.0 311.6 L309.4 310.1 L309.1 308.3 L308.0 307.0 L306.7 306.0 L306.3 304.3 L305.2 303.1 L304.0 302.0 L302.8 300.5 L302.1 298.6 L301.0 297.0 L300.5 295.5 L300.2 294.1 L300.2 292.5 L300.0 291.0 L299.2 289.6 L298.0 288.5 L296.9 287.3 L296.0 286.0 L294.7 285.2 L293.7 283.9 L292.4 283.0 L291.0 282.2 L290.0 281.0 L288.3 280.8 L286.7 280.7 L285.0 281.0 L283.2 281.8 L281.6 283.0 L280.0 284.0 L277.9 283.1 L276.0 282.0 L274.4 281.1 L273.1 279.9 L271.6 278.8 L270.0 278.0 L268.2 277.8 L266.5 278.0 L264.8 278.4 L263.0 278.0 L261.3 278.7 L259.8 279.7 L258.0 280.0 L256.7 278.7 L256.0 277.0 L254.2 278.2 L253.0 280.0 L251.3 280.7 L250.0 282.0 L248.4 282.2 L247.1 283.2 L245.4 283.3 L244.0 284.0 L245.3 285.9 L246.0 288.0 L246.9 289.7 L248.3 291.2 L249.0 293.0 L247.0 292.5 L245.0 292.0 L243.4 291.8 L242.0 291.0 L240.6 292.1 L239.0 293.0 L237.5 292.7 L236.0 293.0 L234.6 292.3 L233.3 291.4 L232.0 290.5 L230.0 289.9 L228.0 289.0 L226.5 288.4 L224.9 287.9 L223.1 288.0 L221.7 287.1 L220.0 287.0 L218.2 286.5 L216.6 285.8 L214.7 285.8 L213.0 285.0 L211.5 286.3 L209.6 286.8 L208.0 288.0 L206.4 288.6 L204.9 289.3 L203.4 290.0 L202.0 291.0 L200.9 292.1 L199.7 293.1 L198.4 294.0 L197.0 294.7 L196.0 296.0 L194.5 296.7 L192.9 297.2 L191.4 298.1 L190.0 299.0 L188.6 299.8 L187.8 301.3 L186.6 302.2 L185.3 303.1 L184.0 304.0 L183.2 305.5 L182.8 307.2 L182.0 308.6 L181.0 310.0 L181.5 311.4 L182.0 312.9 L182.6 314.3 L183.2 315.7 L184.0 317.0 L183.6 318.8 L183.6 320.7 L183.0 322.4 L176.0 320.0 L169.0 315.0 L166.0 308.0 L162.0 300.0 L158.0 292.0 L150.0 287.0 L142.0 288.0 L137.0 293.0 L129.0 286.0 L126.0 278.0 L120.0 272.0 L114.0 265.0 L113.7 264.7 L101.0 264.7 L100.5 267.2 L94.2 266.8 L77.9 265.3 L52.1 249.5 L40.0 245.8 L38.6 245.1 L37.0 245.3 L35.5 244.8 L34.4 243.3 L33.3 241.8 L32.9 239.9 L31.6 238.5 L31.0 237.1 L29.9 235.9 L28.9 234.7 L28.6 233.1 L27.4 232.1 L26.9 230.6 L26.3 228.9 L25.1 227.5 L24.3 225.9 L23.7 224.2 L21.9 223.9 L20.1 223.6 L18.4 223.0 L16.8 222.1 L15.0 221.9 L15.0 220.0 L14.3 218.2 L14.2 216.3 L13.3 214.8 L12.6 213.2 L11.7 211.6 L11.0 210.0 L10.2 208.5 L9.8 206.9 L9.3 205.3 L9.2 203.6 L8.7 202.0 L8.7 200.4 L8.2 198.8 L8.5 197.2 L8.5 195.6 L8.0 194.0 L7.7 192.2 L7.7 190.3 L7.1 188.4 L6.8 186.6 L6.3 185.0 L6.2 183.3 L5.7 181.7 L4.8 180.2 L4.9 178.4 L4.4 176.8 L3.8 175.2 L4.0 173.6 L3.6 172.1 L3.1 170.5 L2.9 169.0 L3.0 167.4 L3.2 165.8 L2.8 164.2 L2.5 162.7 L3.1 161.0 L3.5 159.3 L4.4 157.7 L5.0 156.0 L5.8 154.6 L6.1 153.0 L7.2 151.7 L7.5 150.1 L7.8 148.6 L7.5 147.0 L7.7 145.4 L8.2 143.8 L8.9 142.4 L9.4 141.0 L9.9 139.6 L10.6 138.2 L10.9 136.7 L11.3 135.2 L12.3 134.0 L12.6 132.5 L13.2 130.9 L14.3 129.6 L15.1 128.1 L15.9 126.6 L16.3 125.0 L17.6 122.6 L18.2 121.2 L18.6 119.7 L19.3 118.3 L19.3 116.7 L20.3 115.4 L20.7 113.9 L21.2 112.5 L21.9 111.1 L22.0 109.5 L22.0 107.6 L21.2 105.7 L21.3 103.8 L20.8 102.2 L21.2 100.4 L20.7 98.8 L21.3 97.2 L21.0 95.4 L21.6 93.8 Z M345.5 172.8 L351.0 169.5 L357.0 166.0 L358.0 167.0 L352.0 170.5 L347.0 173.6 Z" fill="none" stroke="#111" stroke-width="1" stroke-linejoin="round"/>
<path d="M213.0 285.0 L212.0 286.2 L210.7 286.8 L209.6 287.8 L208.0 288.0 L206.9 288.7 L205.6 289.2 L204.5 290.0 L203.3 290.6 L202.0 291.0 L201.0 291.8 L200.3 293.0 L199.1 293.7 L198.0 294.3 L197.0 295.2 L196.0 296.0 L194.6 296.2 L193.4 296.8 L192.3 297.6 L191.2 298.3 L190.0 299.0 L189.2 300.1 L187.8 300.4 L186.8 301.2 L186.2 302.5 L185.3 303.5 L184.0 304.0 L183.5 305.2 L183.0 306.5 L182.4 307.7 L181.8 308.9 L181.0 310.0 L181.8 311.3 L182.8 312.5 L182.8 314.2 L182.8 315.8 L184.0 317.0 L184.3 318.5 L183.2 319.6 L183.0 321.0 L183.0 322.4" fill="none" stroke="#111" stroke-width="1.5" stroke-linejoin="round"/>
<path d="M244.0 284.0 L244.0 285.7 L244.9 286.9 L246.0 288.0 L246.5 289.4 L247.7 290.4 L248.1 291.8 L249.0 293.0 L247.5 293.3 L246.2 293.0 L245.0 292.0 L243.6 291.2 L242.0 291.0 L240.2 291.6 L239.0 293.0 L237.5 293.4 L236.0 293.0 L234.9 291.7 L233.4 291.2 L232.0 290.5 L230.5 290.6 L229.2 289.9 L228.0 289.0 L226.6 288.8 L225.2 288.9 L223.8 288.8 L222.6 287.9 L221.5 286.7 L220.0 287.0 L218.5 287.0 L217.2 286.3 L215.9 285.3 L214.4 285.6 L213.0 285.0" fill="none" stroke="#111" stroke-width="1.5" stroke-linejoin="round"/>
<path d="M377.8 125.7 L377.2 127.0 L376.4 128.3 L374.4 128.4 L374.0 130.0 L373.6 131.5 L371.8 131.6 L370.9 132.7 L370.3 134.0 L369.4 134.9 L368.6 136.0 L367.1 136.4 L366.5 137.7 L365.9 139.0 L364.6 139.5 L364.2 141.0 L362.8 141.4 L362.5 142.8 L360.8 143.6 L360.9 145.2 L359.9 146.5 L361.0 148.2 L360.2 149.6" fill="none" stroke="#111" stroke-width="1.6" stroke-linejoin="round"/>
<path d="M339.8 215.0 L341.4 215.9 L342.3 217.5 L342.3 219.1 L343.4 220.1 L344.2 221.3 L343.6 222.6 L342.9 223.8 L342.3 225.0 L340.0 226.0 L338.4 227.2 L337.3 228.8 L336.2 230.2 L334.5 230.5 L333.7 231.5 L333.1 232.7 L332.3 233.8 L331.9 235.3 L330.1 235.8 L329.3 236.9 L328.3 238.0 L327.9 239.5" fill="none" stroke="#111" stroke-width="1.5" stroke-linejoin="round"/>
<path d="M327.9 239.5 L326.5 240.3 L325.5 241.5 L324.6 242.8 L323.5 243.9 L322.4 244.7 L321.4 245.6 L320.9 246.9 L319.7 247.6 L318.6 248.3 L317.7 249.3 L317.2 250.7 L316.0 251.4 L314.9 252.7 L313.6 253.7 L312.2 254.5 L311.7 256.0 L310.9 257.3 L309.7 258.3 L309.8 259.7 L309.5 261.1 L309.1 262.5 L309.1 263.9 L308.4 265.2 L307.7 266.7 L307.7 268.3 L307.4 269.9 L307.2 271.5 L307.2 272.9 L307.7 274.3 L308.2 275.6 L308.4 277.0" fill="none" stroke="#111" stroke-width="1.3" stroke-linejoin="round"/>
<path d="M336.2 187.7 L337.1 189.4 L337.0 191.4 L337.1 193.0 L337.2 194.6 L338.3 196.1 L338.3 197.7 L338.3 199.2 L337.6 200.7 L337.6 202.2 L337.5 203.7 L337.7 205.2 L337.1 206.4 L336.8 207.7 L336.4 209.0 L335.9 207.5 L336.0 205.9 L334.9 204.6 L335.0 203.0 L334.7 201.6 L334.8 200.2 L334.0 198.9 L334.4 197.3 L333.8 196.0 L334.0 194.4 L333.0 193.0 L332.5 191.6 L332.5 190.0 L331.8 188.7 L331.0 187.5 L330.4 188.7 L330.0 190.0 L330.4 191.5 L329.8 193.0 L330.5 194.5 L330.5 196.0 L330.9 197.3 L331.2 198.7 L331.5 200.0 L332.0 201.6 L332.3 203.3 L332.5 205.0 L332.7 206.4 L333.3 207.7 L334.0 209.0 L335.0 210.0 L335.1 211.5 L336.0 212.5" fill="none" stroke="#111" stroke-width="1.15" stroke-linejoin="round"/>
<path d="M316.0 319.0 L314.8 318.3 L314.7 316.7 L313.1 316.3 L312.5 315.1 L312.1 313.8 L311.0 313.0 L310.7 311.7 L309.6 310.7 L309.2 309.4 L308.2 308.4 L308.0 307.0 L307.0 305.7 L306.0 304.5 L305.3 303.0 L304.0 302.0 L303.4 300.7 L302.3 299.6 L302.1 298.1 L301.0 297.0 L300.4 295.6 L300.3 294.0 L300.7 292.4 L300.0 291.0" fill="none" stroke="#111" stroke-width="1.3" stroke-linejoin="round"/>
<path d="M341 216.6 L338.4 217.4 L336.6 216 L335 217.2 L333.2 216.2 M338.6 217.4 L338 219.6 M341.6 224.4 L339 223.2 L337.4 224.6 L335.4 223.2 L334.2 224 M337.4 224.6 L336.6 227 L335 226.4 M340.4 221 L339 220" fill="none" stroke="#111" stroke-width="1" stroke-linejoin="round"/>
<path d="M31.4 94.8 L33.4 93 L34.8 95.6 L34.4 99 L32.2 98.8 L32.2 96.6 Z" fill="#000"/>
<path d="M33.2 98.5 L32.6 101 L32.6 103.4 M32.6 103.6 L33 105.4 L31 107.2 L29.4 106.6 L30 104.8 L32.6 103.6 Z" stroke="#000" stroke-width="1.3" fill="none" stroke-linejoin="round"/>
<path d="M235.7 122.5 L240 120.3" stroke="#111" stroke-width="1" fill="none"/>
<path d="M7.2 186.6 L9 187.4 L11 187 L13.2 188 L15.6 189.2 M8 188.6 L9.6 190.6" stroke="#111" stroke-width="1.3" fill="none" stroke-linecap="round"/>
<path d="M13.8 227 L17 227.6 L20.2 228.8" stroke="#111" stroke-width="1.2" fill="none"/>
<g fill="#111"><circle cx="18.2" cy="235.3" r="0.8"/><circle cx="26" cy="235.6" r="0.8"/><circle cx="25.3" cy="240" r="0.9"/></g>
<path d="M322 320.6 L320.6 322.6 L318.6 324 L315.8 325 L313.6 325.6" stroke="#111" stroke-width="1.2" fill="none"/>
<path d="M308.8 326.4 L310.6 326.2 M303.2 327.7 L304.8 327.5" stroke="#111" stroke-width="0.9" fill="none"/>
<circle cx="317.6" cy="304.3" r="1.8" fill="none" stroke="#222" stroke-width="0.7"/>
<path d="M300.6 297 L302.2 298 L301.6 300 L300.4 299.2 Z M306.6 306 L308 306.6 L307.6 308 Z" fill="#111"/>
<path d="M359.3 150.2 L405.8 111.2 L419.8 224.0 L422.6 250.0 L427.1 287.7 L442.7 303.2 L403.8 336.6 L359.0 172.8 Z" fill="#E6E6E6" stroke="#D2D2D2" stroke-width="1"/>
<rect x="340.5" y="153.5" width="18.1" height="18.9" fill="none" stroke="#1c1c1c" stroke-width="1.1"/>
<path d="M344.4 159.2 L355.0 156.8 L357.2 162.3 L352.6 164.4 L348.0 166.2 L345.9 168.9 L344.7 163.8 Z" fill="none" stroke="#000" stroke-width="1.25" stroke-linejoin="round"/>
<g clip-path="url(#ins)">
<rect x="395" y="55" width="350" height="310" fill="#68C2A4"/>
<path d="M646.0 71.0 L644.6 74.2 L608.8 128.0 L572.0 190.0 L536.5 250.0 L507.0 305.2 L498.0 322.0 L760.0 330.0 L760.0 50.0 Z" fill="#86CDB8"/>
<path d="M654.0 70.0 L653.4 71.6 L615.1 128.0 L577.0 190.0 L539.5 250.0 L509.0 305.2 L499.0 322.0 L760.0 330.0 L760.0 50.0 Z" fill="#AEDFDF"/>
<clipPath id="insL"><path d="M646.0 71.0 L644.6 74.2 L608.8 128.0 L572.0 190.0 L536.5 250.0 L507.0 305.2 L498.0 322.0 L480.0 380.0 L380.0 380.0 L380.0 50.0 Z"/></clipPath>
<clipPath id="insR"><path d="M646.0 71.0 L644.6 74.2 L608.8 128.0 L572.0 190.0 L536.5 250.0 L507.0 305.2 L498.0 322.0 L480.0 380.0 L770.0 380.0 L770.0 50.0 Z"/></clipPath>
<path clip-path="url(#insL)" d="M311.8 50 L53.5 370 M317.5 50 L60.1 370 M323.2 50 L66.7 370 M328.9 50 L73.4 370 M334.6 50 L80.0 370 M340.2 50 L86.6 370 M345.9 50 L93.3 370 M351.6 50 L99.9 370 M357.3 50 L106.6 370 M363.0 50 L113.2 370 M368.7 50 L119.9 370 M374.5 50 L126.5 370 M380.2 50 L133.2 370 M385.9 50 L139.9 370 M391.6 50 L146.5 370 M397.3 50 L153.2 370 M403.1 50 L159.9 370 M408.8 50 L166.6 370 M414.5 50 L173.3 370 M420.3 50 L180.0 370 M426.0 50 L186.7 370 M431.7 50 L193.4 370 M437.5 50 L200.1 370 M443.2 50 L206.8 370 M449.0 50 L213.5 370 M454.7 50 L220.2 370 M460.5 50 L226.9 370 M466.3 50 L233.7 370 M472.0 50 L240.4 370 M477.8 50 L247.1 370 M483.6 50 L253.9 370 M489.4 50 L260.6 370 M495.2 50 L267.3 370 M500.9 50 L274.1 370 M506.7 50 L280.8 370 M512.5 50 L287.6 370 M518.3 50 L294.4 370 M524.1 50 L301.1 370 M529.9 50 L307.9 370 M535.7 50 L314.7 370 M541.5 50 L321.5 370 M547.3 50 L328.2 370 M553.2 50 L335.0 370 M559.0 50 L341.8 370 M564.8 50 L348.6 370 M570.6 50 L355.4 370 M576.5 50 L362.2 370 M582.3 50 L369.0 370 M588.1 50 L375.8 370 M594.0 50 L382.6 370 M599.8 50 L389.4 370 M605.7 50 L396.3 370 M611.5 50 L403.1 370 M617.4 50 L409.9 370 M623.2 50 L416.7 370 M629.1 50 L423.6 370 M634.9 50 L430.4 370 M640.8 50 L437.3 370 M646.7 50 L444.1 370 M652.5 50 L451.0 370 M658.4 50 L457.8 370 M664.3 50 L464.7 370 M670.2 50 L471.5 370 M676.1 50 L478.4 370 M682.0 50 L485.3 370 M687.8 50 L492.2 370 M693.7 50 L499.0 370 M699.6 50 L505.9 370 M705.6 50 L512.8 370 M711.5 50 L519.7 370 M717.4 50 L526.6 370 M723.3 50 L533.5 370 M729.2 50 L540.4 370 M735.1 50 L547.3 370 M741.1 50 L554.2 370 M747.0 50 L561.1 370 M752.9 50 L568.1 370 M758.9 50 L575.0 370 M764.8 50 L581.9 370 M770.7 50 L588.9 370 M776.7 50 L595.8 370 M782.6 50 L602.7 370 M788.6 50 L609.7 370 M794.5 50 L616.6 370 M800.5 50 L623.6 370 M806.5 50 L630.6 370 M812.4 50 L637.5 370 M818.4 50 L644.5 370 M824.4 50 L651.5 370 M830.4 50 L658.4 370 M836.4 50 L665.4 370 M842.3 50 L672.4 370 M848.3 50 L679.4 370 M854.3 50 L686.4 370 M860.3 50 L693.4 370 M866.3 50 L700.4 370 M872.3 50 L707.4 370 M878.3 50 L714.4 370 M884.4 50 L721.4 370 M890.4 50 L728.4 370 M896.4 50 L735.4 370 M902.4 50 L742.5 370 M908.4 50 L749.5 370 M914.5 50 L756.5 370 M920.5 50 L763.6 370 M926.5 50 L770.6 370 M932.6 50 L777.7 370 M938.6 50 L784.7 370" fill="none" stroke="#1f5542" stroke-opacity="0.85" stroke-width="0.9"/>
<path clip-path="url(#insR)" d="M311.8 50 L53.5 370 M317.5 50 L60.1 370 M323.2 50 L66.7 370 M328.9 50 L73.4 370 M334.6 50 L80.0 370 M340.2 50 L86.6 370 M345.9 50 L93.3 370 M351.6 50 L99.9 370 M357.3 50 L106.6 370 M363.0 50 L113.2 370 M368.7 50 L119.9 370 M374.5 50 L126.5 370 M380.2 50 L133.2 370 M385.9 50 L139.9 370 M391.6 50 L146.5 370 M397.3 50 L153.2 370 M403.1 50 L159.9 370 M408.8 50 L166.6 370 M414.5 50 L173.3 370 M420.3 50 L180.0 370 M426.0 50 L186.7 370 M431.7 50 L193.4 370 M437.5 50 L200.1 370 M443.2 50 L206.8 370 M449.0 50 L213.5 370 M454.7 50 L220.2 370 M460.5 50 L226.9 370 M466.3 50 L233.7 370 M472.0 50 L240.4 370 M477.8 50 L247.1 370 M483.6 50 L253.9 370 M489.4 50 L260.6 370 M495.2 50 L267.3 370 M500.9 50 L274.1 370 M506.7 50 L280.8 370 M512.5 50 L287.6 370 M518.3 50 L294.4 370 M524.1 50 L301.1 370 M529.9 50 L307.9 370 M535.7 50 L314.7 370 M541.5 50 L321.5 370 M547.3 50 L328.2 370 M553.2 50 L335.0 370 M559.0 50 L341.8 370 M564.8 50 L348.6 370 M570.6 50 L355.4 370 M576.5 50 L362.2 370 M582.3 50 L369.0 370 M588.1 50 L375.8 370 M594.0 50 L382.6 370 M599.8 50 L389.4 370 M605.7 50 L396.3 370 M611.5 50 L403.1 370 M617.4 50 L409.9 370 M623.2 50 L416.7 370 M629.1 50 L423.6 370 M634.9 50 L430.4 370 M640.8 50 L437.3 370 M646.7 50 L444.1 370 M652.5 50 L451.0 370 M658.4 50 L457.8 370 M664.3 50 L464.7 370 M670.2 50 L471.5 370 M676.1 50 L478.4 370 M682.0 50 L485.3 370 M687.8 50 L492.2 370 M693.7 50 L499.0 370 M699.6 50 L505.9 370 M705.6 50 L512.8 370 M711.5 50 L519.7 370 M717.4 50 L526.6 370 M723.3 50 L533.5 370 M729.2 50 L540.4 370 M735.1 50 L547.3 370 M741.1 50 L554.2 370 M747.0 50 L561.1 370 M752.9 50 L568.1 370 M758.9 50 L575.0 370 M764.8 50 L581.9 370 M770.7 50 L588.9 370 M776.7 50 L595.8 370 M782.6 50 L602.7 370 M788.6 50 L609.7 370 M794.5 50 L616.6 370 M800.5 50 L623.6 370 M806.5 50 L630.6 370 M812.4 50 L637.5 370 M818.4 50 L644.5 370 M824.4 50 L651.5 370 M830.4 50 L658.4 370 M836.4 50 L665.4 370 M842.3 50 L672.4 370 M848.3 50 L679.4 370 M854.3 50 L686.4 370 M860.3 50 L693.4 370 M866.3 50 L700.4 370 M872.3 50 L707.4 370 M878.3 50 L714.4 370 M884.4 50 L721.4 370 M890.4 50 L728.4 370 M896.4 50 L735.4 370 M902.4 50 L742.5 370 M908.4 50 L749.5 370 M914.5 50 L756.5 370 M920.5 50 L763.6 370 M926.5 50 L770.6 370 M932.6 50 L777.7 370 M938.6 50 L784.7 370" fill="none" stroke="#2c5f5c" stroke-opacity="0.75" stroke-width="0.6"/>
</g>
<path d="M405.8 111.2 L505.0 95.2 L526.1 91.5 L528.2 99.6 L536.1 97.3 L536.6 89.4 L563.4 85.2 L564.5 86.7 L568.7 86.5 L570.3 84.1 L585.0 81.6 L637.8 73.6 L706.8 62.0 L709.3 62.6 L715.6 87.7 L721.9 117.8 L726.9 145.4 L730.6 165.0 L733.2 180.0 L735.2 197.6 L734.4 201.4 L728.1 203.9 L729.4 208.9 L731.9 216.5 L730.6 221.5 L726.9 223.2 L724.7 222.5 L722.6 221.9 L720.6 220.7 L718.7 220.7 L716.9 221.5 L715.0 221.3 L713.1 221.5 L711.2 222.3 L709.4 223.2 L707.4 223.4 L705.5 224.0 L704.6 225.9 L703.1 227.4 L701.8 229.0 L700.1 230.3 L698.0 230.8 L696.0 230.7 L694.2 229.8 L692.5 229.2 L691.0 228.1 L689.2 227.7 L687.6 226.1 L686.7 224.0 L685.9 222.3 L685.8 220.4 L685.6 218.6 L684.8 216.9 L684.2 215.2 L683.0 216.5 L683.3 218.5 L682.9 220.5 L684.0 222.4 L683.3 224.4 L684.1 226.3 L684.4 228.3 L684.2 230.3 L683.2 232.2 L681.8 233.7 L680.4 235.3 L677.8 235.6 L675.4 236.5 L672.8 236.0 L670.4 234.8 L669.1 236.1 L667.8 237.5 L666.6 239.0 L665.4 241.6 L663.6 242.3 L661.6 242.8 L659.9 243.9 L657.9 244.1 L656.2 245.3 L654.2 246.0 L652.1 246.3 L650.3 247.3 L647.8 247.6 L645.3 247.8 L643.3 246.7 L641.5 245.3 L641.2 243.2 L640.7 241.1 L640.3 239.0 L638.3 237.3 L636.5 235.3 L635.0 233.8 L633.3 232.6 L631.5 231.5 L632.2 234.0 L633.8 235.1 L635.0 236.6 L636.4 237.8 L637.8 239.0 L637.9 241.0 L638.6 242.9 L639.5 244.6 L639.8 246.6 L641.0 248.2 L642.8 249.1 L642.5 251.1 L641.5 252.8 L639.0 253.5 L636.5 254.1 L634.0 251.6 L631.9 251.7 L629.9 252.7 L627.7 252.8 L625.8 253.8 L624.2 255.1 L622.0 255.5 L620.2 256.6 L618.2 257.0 L616.4 257.8 L614.5 258.1 L612.7 259.1 L611.1 260.1 L609.3 260.6 L607.7 261.6 L605.8 261.2 L603.9 260.9 L602.0 260.7 L600.1 260.4 L598.2 260.4 L596.3 260.6 L594.5 261.3 L592.6 261.6 L590.7 262.4 L589.0 263.9 L586.9 264.3 L585.1 265.4 L582.6 267.9 L580.7 267.5 L578.9 266.8 L577.0 266.7 L575.0 266.7 L572.8 267.2 L570.5 267.4 L568.2 267.6 L566.3 268.0 L564.6 269.3 L562.6 269.4 L560.7 270.0 L559.0 271.2 L557.1 272.2 L555.3 273.2 L553.2 273.8 L551.1 273.5 L549.0 274.2 L546.9 273.8 L545.4 272.0 L544.4 270.0 L544.0 268.1 L544.1 266.2 L543.0 264.4 L543.1 262.5 L542.3 264.2 L541.4 265.9 L540.6 267.6 L539.5 269.2 L538.8 271.0 L538.0 272.7 L537.8 274.7 L536.8 276.4 L535.6 278.0 L534.4 279.6 L532.8 280.8 L531.8 282.6 L530.2 283.9 L529.6 286.0 L528.3 287.5 L526.8 288.9 L525.4 290.4 L523.8 291.6 L522.1 292.7 L520.5 293.9 L518.8 295.5 L517.3 297.5 L515.5 299.0 L515.1 300.9 L513.9 302.4 L513.0 304.0 L511.2 305.4 L509.2 306.5 L506.7 306.4 L504.2 306.5 L503.8 304.6 L502.7 303.1 L501.7 301.5 L500.0 302.7 L498.3 303.9 L496.7 305.2 L494.7 307.0 L492.9 309.0 L492.0 310.9 L490.0 312.1 L489.1 314.0 L487.3 315.0 L485.5 316.2 L484.1 317.8 L481.5 318.1 L479.1 319.0 L477.6 320.0 L476.0 321.0 L474.6 322.2 L472.8 322.8 L471.1 323.5 L469.7 324.9 L467.8 325.3 L466.2 327.5 L464.0 329.1 L463.0 330.9 L461.8 332.6 L460.3 334.1 L458.7 335.1 L457.2 336.2 L455.3 336.6 L453.9 338.6 L452.1 340.2 L450.2 341.6 L448.3 342.8 L446.1 343.4 L444.0 344.1 L443.1 346.3 L441.5 347.9 L438.9 348.1 L436.4 349.1 L435.1 351.0 L433.9 353.0 L431.8 352.0 L430.2 350.4 L428.6 351.5 L426.9 352.3 L425.1 353.0 L424.0 354.7 L422.9 356.6 L421.4 358.0 L403.8 336.6 L442.7 303.2 L427.1 287.7 L422.6 250.0 L419.8 224.0 Z" fill="none" stroke="#2e4a40" stroke-width="1" stroke-linejoin="round"/>
<rect x="89.70" y="424.7" width="63.30" height="32.3" fill="#9A3821" stroke="#777" stroke-width="1.4"/>
<rect x="153.00" y="424.7" width="63.30" height="32.3" fill="#D9622B" stroke="#777" stroke-width="1.4"/>
<rect x="216.30" y="424.7" width="63.30" height="32.3" fill="#F5992F" stroke="#777" stroke-width="1.4"/>
<rect x="279.60" y="424.7" width="63.30" height="32.3" fill="#FDD78F" stroke="#777" stroke-width="1.4"/>
<rect x="342.90" y="424.7" width="63.30" height="32.3" fill="#FCFAD6" stroke="#777" stroke-width="1.4"/>
<rect x="406.20" y="424.7" width="63.30" height="32.3" fill="#ECF7FA" stroke="#777" stroke-width="1.4"/>
<rect x="469.50" y="424.7" width="63.30" height="32.3" fill="#AEDFDF" stroke="#777" stroke-width="1.4"/>
<rect x="532.80" y="424.7" width="63.30" height="32.3" fill="#68C2A4" stroke="#777" stroke-width="1.4"/>
<rect x="596.10" y="424.7" width="63.30" height="32.3" fill="#22894A" stroke="#777" stroke-width="1.4"/>
<rect x="89.7" y="424.7" width="569.7" height="32.3" fill="none" stroke="#777" stroke-width="1.6"/>
<text transform="translate(152.1,486.2) scale(1.06,1)" x="0" y="0" font-size="25.5" text-anchor="middle" stroke="#fff" stroke-width="0.4">&lt;−20</text>
<text transform="translate(217.9,486.2) scale(1.06,1)" x="0" y="0" font-size="25.5" text-anchor="middle" stroke="#fff" stroke-width="0.4">−15</text>
<text transform="translate(281,486.2) scale(1.06,1)" x="0" y="0" font-size="25.5" text-anchor="middle" stroke="#fff" stroke-width="0.4">−10</text>
<text transform="translate(344.5,486.2) scale(1.06,1)" x="0" y="0" font-size="25.5" text-anchor="middle" stroke="#fff" stroke-width="0.4">−5</text>
<text transform="translate(406,486.2) scale(1.06,1)" x="0" y="0" font-size="25.5" text-anchor="middle" stroke="#fff" stroke-width="0.4">0</text>
<text transform="translate(470.7,486.2) scale(1.06,1)" x="0" y="0" font-size="25.5" text-anchor="middle" stroke="#fff" stroke-width="0.4">5</text>
<text transform="translate(534,486.2) scale(1.06,1)" x="0" y="0" font-size="25.5" text-anchor="middle" stroke="#fff" stroke-width="0.4">10</text>
<text transform="translate(599,486.2) scale(1.06,1)" x="0" y="0" font-size="25.5" text-anchor="middle" stroke="#fff" stroke-width="0.4">&gt;15</text>
<text x="178.4" y="410.5" font-size="25.8" stroke="#fff" stroke-width="0.4">Change</text>
<text x="274.9" y="410.5" font-size="25.8" stroke="#fff" stroke-width="0.4">in</text>
<text x="300.8" y="410.5" font-size="25.8" textLength="77.1" lengthAdjust="spacingAndGlyphs" stroke="#fff" stroke-width="0.4">Spring</text>
<text x="383.4" y="410.5" font-size="25.8" textLength="146.7" lengthAdjust="spacingAndGlyphs" stroke="#fff" stroke-width="0.4">Precipitation</text>
<text x="535.3" y="410.5" font-size="25.8" textLength="37.6" lengthAdjust="spacingAndGlyphs" stroke="#fff" stroke-width="0.4">(%)</text>
<text x="88.7" y="26.75" font-size="30.5" textLength="134.4" lengthAdjust="spacingAndGlyphs" stroke="#fff" stroke-width="0.4">Projected</text>
<text x="229.1" y="26.75" font-size="30.5" textLength="109" lengthAdjust="spacingAndGlyphs" stroke="#fff" stroke-width="0.4">Change</text>
<text x="345" y="26.75" font-size="30.5" textLength="25.75" lengthAdjust="spacingAndGlyphs" stroke="#fff" stroke-width="0.4">in</text>
<text x="375.6" y="26.75" font-size="30.5" textLength="93.2" lengthAdjust="spacingAndGlyphs" stroke="#fff" stroke-width="0.4">Spring</text>
<text x="477.3" y="26.75" font-size="30.5" textLength="173.5" lengthAdjust="spacingAndGlyphs" stroke="#fff" stroke-width="0.4">Precipitation</text>
</svg></body></html>
